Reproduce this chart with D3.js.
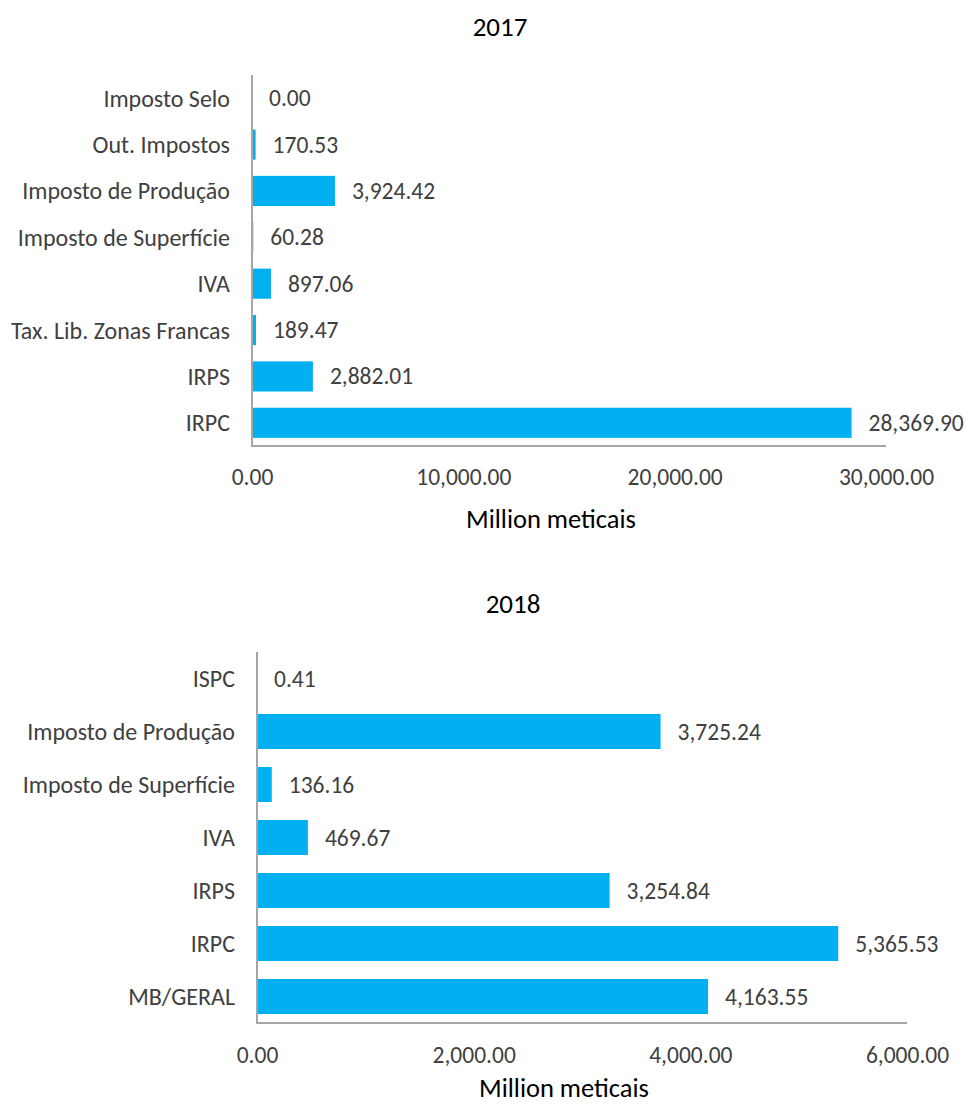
<!DOCTYPE html>
<html>
<head>
<meta charset="utf-8">
<script src="https://cdn.jsdelivr.net/npm/d3@7"></script>
<style>
  html, body { margin: 0; padding: 0; background: #fff; }
  svg { display: block; font-family: Carlito, Calibri, Lato, sans-serif; }
</style>
</head>
<body>
<svg id="chart" width="967" height="1104"></svg>
<script>
// Revenue by tax type, million meticais
const categories2017 = ["Imposto Selo", "Out. Impostos", "Imposto de Produção", "Imposto de Superfície", "IVA", "Tax. Lib. Zonas Francas", "IRPS", "IRPC"];
const values2017 = [0.00, 170.53, 3924.42, 60.28, 897.06, 189.47, 2882.01, 28369.90];
const ticks2017 = [0, 10000, 20000, 30000];

const categories2018 = ["ISPC", "Imposto de Produção", "Imposto de Superfície", "IVA", "IRPS", "IRPC", "MB/GERAL"];
const values2018 = [0.41, 3725.24, 136.16, 469.67, 3254.84, 5365.53, 4163.55];
const ticks2018 = [0, 2000, 4000, 6000];

const axisTitle = "Million meticais";

const svg = d3.select("#chart");
const fmt = d3.format(",.2f");
const BAR = "#00b0f0";
const TEXT = "#404040";
const AXIS = "#a6a6a6";
const NUM_SIZE = 23.5;
const CAT_SIZE = 24;

function drawPanel(opt) {
  const g = svg.append("g");
  const x = d3.scaleLinear().domain([0, opt.max]).range([opt.left, opt.right]);
  const y = d3.scaleBand().domain(opt.categories).range([opt.top, opt.bottom]).paddingInner(opt.pad).paddingOuter(opt.pad / 2);

  // title
  g.append("text")
    .attr("x", opt.titleX).attr("y", opt.titleY)
    .attr("text-anchor", "middle").attr("dominant-baseline", "central")
    .attr("font-size", 27).attr("fill", "#000")
    .text(opt.title);

  // bars
  g.selectAll("rect.bar").data(opt.values).join("rect")
    .attr("class", "bar")
    .attr("x", x(0))
    .attr("y", (d, i) => y(opt.categories[i]))
    .attr("width", d => x(d) - x(0))
    .attr("height", y.bandwidth())
    .attr("fill", BAR);

  // value labels
  g.selectAll("text.val").data(opt.values).join("text")
    .attr("class", "val")
    .attr("x", d => x(d) + 17)
    .attr("y", (d, i) => y(opt.categories[i]) + y.bandwidth() / 2)
    .attr("dominant-baseline", "central")
    .attr("font-size", NUM_SIZE).attr("fill", TEXT)
    .text(d => fmt(d));

  // category axis
  const yAxis = d3.axisLeft(y).tickSize(0).tickPadding(22);
  const ya = g.append("g").attr("transform", `translate(${x(0)},0)`).call(yAxis)
    .attr("font-family", null).attr("font-size", null);
  ya.select(".domain").remove();
  ya.selectAll("text").attr("font-size", CAT_SIZE).attr("fill", TEXT).attr("dy", null)
    .attr("dominant-baseline", "central");

  // value axis
  const xAxis = d3.axisBottom(x).tickValues(opt.ticks).tickFormat(fmt).tickSize(0).tickPadding(0);
  const xa = g.append("g").attr("transform", `translate(0,${opt.bottom})`).call(xAxis)
    .attr("font-family", null).attr("font-size", null);
  xa.select(".domain").remove();
  xa.selectAll("text").attr("font-size", NUM_SIZE).attr("fill", TEXT)
    .attr("y", opt.tickOffset).attr("dy", null).attr("dominant-baseline", "central");

  // axis lines
  g.append("line").attr("x1", x(0)).attr("x2", x(0)).attr("y1", opt.top).attr("y2", opt.bottom)
    .attr("stroke", AXIS).attr("stroke-width", 2);
  g.append("line").attr("x1", x(0) - 1).attr("x2", opt.right).attr("y1", opt.bottom).attr("y2", opt.bottom)
    .attr("stroke", AXIS).attr("stroke-width", 2);

  // axis title (baseline-anchored)
  g.append("text")
    .attr("x", opt.axisTitleX).attr("y", opt.axisTitleBase)
    .attr("text-anchor", "middle")
    .attr("font-size", 26.5).attr("fill", "#000")
    .text(axisTitle);
}

drawPanel({
  title: "2017", titleX: 500, titleY: 26,
  categories: categories2017, values: values2017, ticks: ticks2017, max: 30000,
  left: 252, right: 886, top: 75, bottom: 446, pad: 0.35, tickOffset: 31,
  axisTitleX: 551, axisTitleBase: 528
});

drawPanel({
  title: "2018", titleX: 513, titleY: 603,
  categories: categories2018, values: values2018, ticks: ticks2018, max: 6000,
  left: 257, right: 907, top: 652, bottom: 1023, pad: 0.34, tickOffset: 32,
  axisTitleX: 564, axisTitleBase: 1097
});
</script>
</body>
</html>
